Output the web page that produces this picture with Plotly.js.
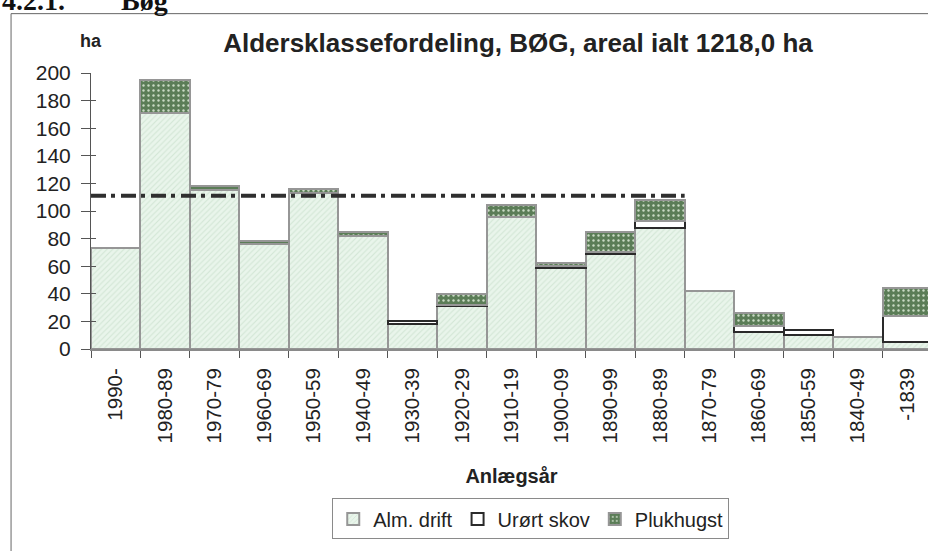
<!DOCTYPE html>
<html>
<head>
<meta charset="utf-8">
<script src="https://cdn.plot.ly/plotly-3.0.1.min.js"></script>
<style>
html,body{margin:0;padding:0;background:#fff;overflow:hidden;width:928px;height:551px;}
#chart{width:945px;height:551px;}
</style>
</head>
<body>
<div id="chart"></div>
<script>
// ---- data ----
const categories = ['1990-','1980-89','1970-79','1960-69','1950-59','1940-49','1930-39','1920-29','1910-19','1900-09','1890-99','1880-89','1870-79','1860-69','1850-59','1840-49','-1839'];
const almDrift   = [73,171,115,76,113,82,18,31,96,59,69,88,42,12,10,9,5];
const urortSkov  = [0,0,0,0,0,0,2,1,0,1,1,5,0,5,4,0,19];
const plukhugst  = [0,24,3,2,3,3,0,8,8,2,15,15,0,9,0,0,20];
const normalLevel = [111];
const normalSpan  = ['1990-','1880-89'];
const yTicks = [0,20,40,60,80,100,120,140,160,180,200];
const seriesNames = ['Alm. drift','Urørt skov','Plukhugst'];
const titleText = 'Aldersklassefordeling, BØG, areal ialt 1218,0 ha';
const headingText = '4.2.1.\u00a0\u00a0\u00a0\u00a0\u00a0\u00a0\u00a0\u00a0Bøg';

// ---- layout geometry (pixels) ----
const W = 945, H = 551;
const L = 91, R = 12.5, T = 73, B = 199;
const pw = W - L - R, ph = H - T - B;
const px = x => (x - L) / pw;
const py = y => (H - B - y) / ph;

const FONT = '"Liberation Sans", Arial, sans-serif';
const TXT = '#222';

const nz = arr => arr.map(v => v === 0 ? null : v);

const traces = [
  {
    type:'bar', name:seriesNames[0], x:categories, y:almDrift,
    marker:{color:'#e8f4ea', line:{color:'#969696', width:2},
      pattern:{shape:'/', fgcolor:'#d2e6d5', bgcolor:'#e9f5eb', size:4, solidity:0.25}},
    hoverinfo:'x+y'
  },
  {
    type:'bar', name:seriesNames[1], x:categories, y:nz(urortSkov),
    marker:{color:'#ffffff', line:{color:'#2a2a2a', width:2}},
    hoverinfo:'x+y'
  },
  {
    type:'bar', name:seriesNames[2], x:categories, y:nz(plukhugst),
    marker:{color:'#5b7d57', line:{color:'#969696', width:2},
      pattern:{shape:'.', fgcolor:'#c9dac4', bgcolor:'#5b7d57', size:5, solidity:0.18}},
    hoverinfo:'x+y'
  },
  {
    type:'scatter', mode:'lines', showlegend:false, xaxis:'x2', yaxis:'y2',
    x:[categories.indexOf(normalSpan[0]) - 0.5, categories.indexOf(normalSpan[1]) + 0.5],
    y:[normalLevel[0], normalLevel[0]],
    line:{color:'#2f2f2f', width:4, dash:'15px,5px,4px,6px'},
    hoverinfo:'skip'
  }
];

const layout = {
  width:W, height:H,
  margin:{l:L, r:R, t:T, b:B, pad:0},
  paper_bgcolor:'#fff', plot_bgcolor:'#fff',
  font:{family:FONT, color:TXT, size:20},
  barmode:'stack', bargap:0,
  title:{text:titleText, font:{family:FONT, size:26, weight:'bold', color:TXT},
    xref:'container', yref:'container', x:518/W, xanchor:'center', y:1-43/H, yanchor:'middle'},
  xaxis:{type:'category', categoryorder:'array', categoryarray:categories,
    range:[-0.5, categories.length-0.5],
    showline:true, linecolor:'#8a8a8a', linewidth:2,
    ticks:'outside', tickson:'boundaries', ticklen:7, tickcolor:'#555', tickwidth:1,
    tickangle:-90, tickfont:{family:FONT, size:20.5, color:TXT}, ticklabelstandoff:9,
    showgrid:false, zeroline:false, automargin:false, fixedrange:true,
    title:{text:'Anlægsår', font:{family:FONT, size:20, weight:'bold', color:TXT}, standoff:27}},
  xaxis2:{overlaying:'x', type:'linear', range:[-0.5, categories.length-0.5],
    visible:false, fixedrange:true},
  yaxis:{range:[0,200], tickvals:yTicks, showline:true, linecolor:'#555', linewidth:1,
    ticks:'outside', ticklen:9, tickcolor:'#555', tickwidth:1,
    tickfont:{family:FONT, size:21, color:TXT}, ticklabelstandoff:6,
    showgrid:false, zeroline:false, automargin:false, fixedrange:true},
  yaxis2:{overlaying:'y', matches:'y', range:[0,200], tickvals:yTicks, side:'left',
    ticks:'inside', ticklen:5, tickcolor:'#555', tickwidth:1, showticklabels:false,
    showline:false, showgrid:false, zeroline:false, fixedrange:true},
  showlegend:true,
  legend:{orientation:'h', x:px(531), xanchor:'center', y:py(503), yanchor:'top',
    font:{family:FONT, size:20, color:TXT}, bordercolor:'#8a8a8a', borderwidth:1,
    itemwidth:30, traceorder:'normal', bgcolor:'#fff'},
  annotations:[
    {text:'ha', xref:'paper', yref:'paper', x:px(90.5), y:py(41), xanchor:'center', yanchor:'middle',
      showarrow:false, font:{family:FONT, size:18, weight:'bold', color:TXT}},
    {text:headingText, xref:'paper', yref:'paper', x:px(0), y:py(0), xanchor:'left', yanchor:'middle',
      showarrow:false, font:{family:'"Liberation Serif", "Times New Roman", serif', size:28, weight:'bold', color:'#111'}}
  ],
  shapes:[
    {type:'rect', xref:'paper', yref:'paper', x0:px(11), x1:px(960), y0:py(570), y1:py(13),
      line:{color:'#666', width:1}, fillcolor:'rgba(0,0,0,0)', layer:'below'}
  ]
};

Plotly.newPlot('chart', traces, layout, {staticPlot:true, displayModeBar:false});
</script>
</body>
</html>
